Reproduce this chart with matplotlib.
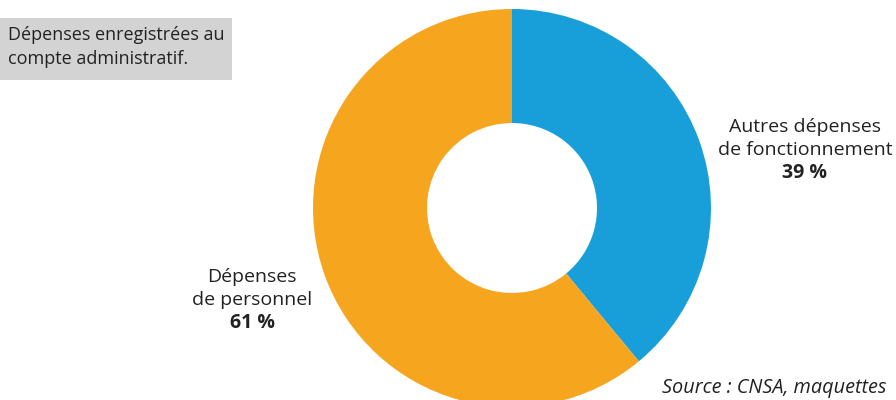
import matplotlib.pyplot as plt

# Répartition des dépenses (en %)
labels = [["Autres dépenses", "de fonctionnement"], ["Dépenses", "de personnel"]]
shares = [39, 61]
colors = ["#189fda", "#f6a51f"]
note = ["Dépenses enregistrées au", "compte administratif."]
source = "Source : CNSA, maquettes"

plt.rcParams['font.family'] = ['Open Sans', 'DejaVu Sans']
TXT = '#222222'

fig = plt.figure(figsize=(8.96, 4.0), dpi=100)
ax = fig.add_axes([0, 0, 1, 1])

ax.pie(shares, colors=colors, startangle=90, counterclock=False,
       center=(512, 192), radius=199,
       wedgeprops=dict(width=114, linewidth=0))
ax.set_xlim(0, 896)
ax.set_ylim(0, 400)
ax.set_aspect('equal')
ax.axis('off')


def label(x, y, lines, value, size):
    # lignes de texte espacées de 23 px, valeur en gras dessous
    for i, line in enumerate(lines):
        ax.text(x, y - 23 * i, line, ha='center', va='baseline',
                fontsize=size, color=TXT)
    ax.text(x, y - 23 * len(lines), f"{value} %", ha='center',
            va='baseline', fontsize=size, fontweight='bold', color=TXT)


label(805, 268, labels[0], shares[0], 14.0)
label(252, 118, labels[1], shares[1], 14.0)

# encadré de note
ax.add_patch(plt.Rectangle((0, 320), 232, 62, facecolor='#d3d3d3',
                           edgecolor='none'))
for i, line in enumerate(note):
    ax.text(8, 360 - 24 * i, line, ha='left', va='baseline',
            fontsize=13.0, color=TXT)

ax.text(662, 7, source, ha='left', va='baseline',
        fontsize=14.3, style='italic', color=TXT)

fig.savefig("out.png", dpi=100)
